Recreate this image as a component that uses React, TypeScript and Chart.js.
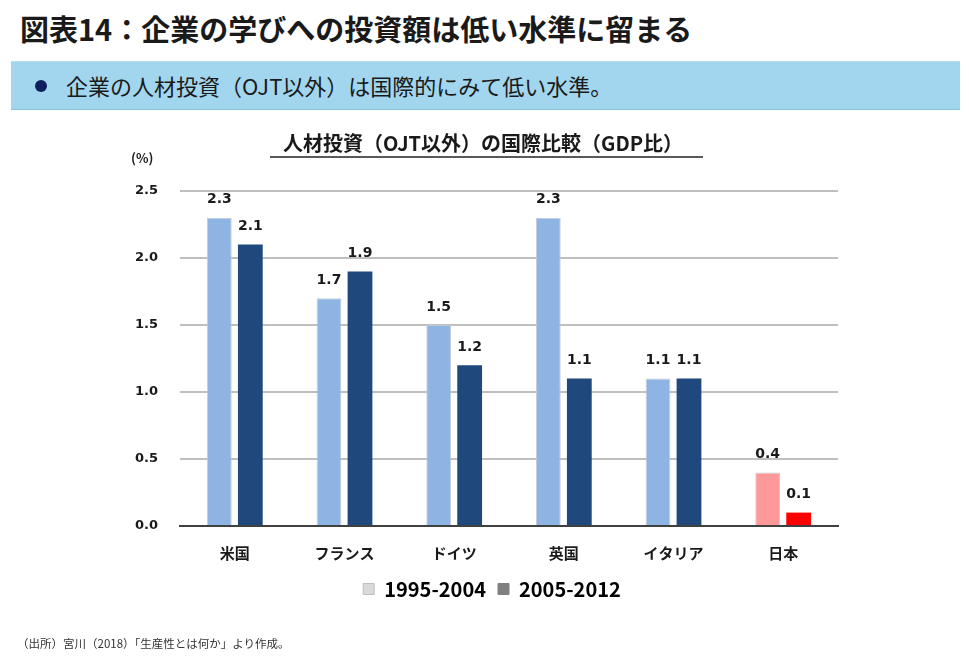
import React, { useEffect, useRef } from "react";
import { Chart, registerables } from "chart.js";

Chart.register(...registerables);

const categories = ["米国", "フランス", "ドイツ", "英国", "イタリア", "日本"];
const series1Label = "1995-2004";
const series2Label = "2005-2012";
const series1 = [2.3, 1.7, 1.5, 2.3, 1.1, 0.4];
const series2 = [2.1, 1.9, 1.2, 1.1, 1.1, 0.1];
const yTicks = [0, 0.5, 1.0, 1.5, 2.0, 2.5];

const JP = '"Noto Sans CJK JP", "Noto Sans", sans-serif';
const NUM = '"DejaVu Sans", Verdana, sans-serif';

const light1 = ["#8DB4E2", "#8DB4E2", "#8DB4E2", "#8DB4E2", "#8DB4E2", "#FF9999"];
const dark2 = ["#1F497D", "#1F497D", "#1F497D", "#1F497D", "#1F497D", "#FF0000"];

const decorPlugin = {
  id: "decor",
  afterLayout(chart: any) {
    const lg = chart.legend;
    if (lg) {
      lg.left += 23;
      lg.right += 23;
    }
  },
  afterDraw(chart: any) {
    const ctx = chart.ctx;
    ctx.save();
    ctx.fillStyle = "#1a1a1a";
    ctx.font = `bold 20px ${JP}`;
    ctx.textAlign = "center";
    ctx.textBaseline = "middle";
    ctx.fillText("人材投資（OJT以外）の国際比較（GDP比）", 483, 143);
    ctx.strokeStyle = "#595959";
    ctx.lineWidth = 2;
    ctx.beginPath();
    ctx.moveTo(270, 157);
    ctx.lineTo(703, 157);
    ctx.stroke();
    ctx.font = `bold 13px ${JP}`;
    ctx.fillStyle = "#1a1a1a";
    ctx.textAlign = "left";
    ctx.fillText("(%)", 131, 158);
    ctx.restore();
  },
};

const labelPlugin = {
  id: "barLabels",
  afterDatasetsDraw(chart: any) {
    const ctx = chart.ctx;
    ctx.save();
    ctx.font = `bold 14px ${NUM}`;
    ctx.fillStyle = "#1a1a1a";
    ctx.textAlign = "center";
    ctx.textBaseline = "middle";
    chart.data.datasets.forEach((ds: any, di: number) => {
      const meta = chart.getDatasetMeta(di);
      meta.data.forEach((el: any, i: number) => {
        const v = ds.data[i];
        ctx.fillText(v.toFixed(1), el.x, el.y - 18);
      });
    });
    ctx.restore();
  },
};

export default function App() {
  const ref = useRef<HTMLCanvasElement>(null);

  useEffect(() => {
    if (!ref.current) return;
    const chart = new Chart(ref.current, {
      type: "bar",
      data: {
        labels: categories,
        datasets: [
          {
            label: series1Label,
            data: series1,
            backgroundColor: light1,
            borderColor: "rgba(190,200,215,0.9)",
            borderWidth: 1,
            categoryPercentage: 0.565,
            barPercentage: 0.8,
          },
          {
            label: series2Label,
            data: series2,
            backgroundColor: dark2,
            borderColor: dark2,
            borderWidth: 0,
            categoryPercentage: 0.565,
            barPercentage: 0.8,
          },
        ],
      },
      options: {
        responsive: false,
        animation: false,
        devicePixelRatio: 1,
        layout: { padding: { left: 100, right: 131, top: 191, bottom: 54 } },
        plugins: {
          title: { display: false },
          tooltip: { enabled: false },
          legend: {
            display: true,
            position: "bottom",
            labels: {
              boxWidth: 11,
              boxHeight: 11,
              padding: 12,
              color: "#1a1a1a",
              font: { family: JP, size: 20, weight: "bold" },
              generateLabels: () => [
                { text: series1Label, fillStyle: "#D9D9D9", strokeStyle: "#BFBFBF", lineWidth: 1, datasetIndex: 0 },
                { text: series2Label, fillStyle: "#808080", strokeStyle: "#808080", lineWidth: 1, datasetIndex: 1 },
              ],
            },
          },
        },
        scales: {
          x: {
            afterFit: (s: any) => {
              s.height = 41;
            },
            grid: { display: false, drawTicks: false },
            border: { display: true, color: "#404040", width: 2 },
            ticks: {
              color: "#1a1a1a",
              padding: 18,
              font: { family: JP, size: 15, weight: "bold" },
            },
          },
          y: {
            min: 0,
            max: 2.5,
            afterFit: (s: any) => {
              s.width = 80;
            },
            afterBuildTicks: (s: any) => {
              s.ticks = yTicks.map((v) => ({ value: v }));
            },
            border: { display: false },
            grid: { color: "#BFBFBF", lineWidth: 2, drawTicks: false },
            ticks: {
              color: "#1a1a1a",
              padding: 22,
              font: { family: NUM, size: 13, weight: "bold" },
              callback: (v: any) => Number(v).toFixed(1),
            },
          },
        },
      },
      plugins: [decorPlugin, labelPlugin],
    });
    return () => chart.destroy();
  }, []);

  return (
    <div style={{ position: "absolute", left: 0, top: 0, width: 969, height: 663, background: "#fff", overflow: "hidden" }}>
      <div
        style={{
          position: "absolute",
          left: 20,
          top: 8,
          fontFamily: JP,
          fontWeight: 700,
          fontSize: 29,
          lineHeight: "40px",
          color: "#1a1a1a",
          whiteSpace: "nowrap",
        }}
      >
        図表14：企業の学びへの投資額は低い水準に留まる
      </div>
      <div
        style={{
          position: "absolute",
          left: 11,
          top: 61,
          width: 949,
          height: 47,
          background: "#A2D6EE",
          borderBottom: "1px solid #8CC3DD",
          borderTop: "1px solid #B5DFF2",
        }}
      >
        <div
          style={{
            position: "absolute",
            left: 24,
            top: 18,
            width: 12,
            height: 12,
            borderRadius: 6,
            background: "#0D1F5C",
          }}
        />
        <div
          style={{
            position: "absolute",
            left: 55,
            top: 7,
            fontFamily: JP,
            fontSize: 22,
            lineHeight: "32px",
            color: "#1a1a1a",
            whiteSpace: "nowrap",
          }}
        >
          企業の人材投資（OJT以外）は国際的にみて低い水準。
        </div>
      </div>
      <canvas ref={ref} width={969} height={663} style={{ position: "absolute", left: 0, top: 0 }} />
      <div
        style={{
          position: "absolute",
          left: 17,
          top: 634,
          fontFamily: JP,
          fontSize: 11.5,
          lineHeight: "18px",
          color: "#333",
          whiteSpace: "nowrap",
        }}
      >
        （出所）宮川（2018）「生産性とは何か」より作成。
      </div>
    </div>
  );
}
